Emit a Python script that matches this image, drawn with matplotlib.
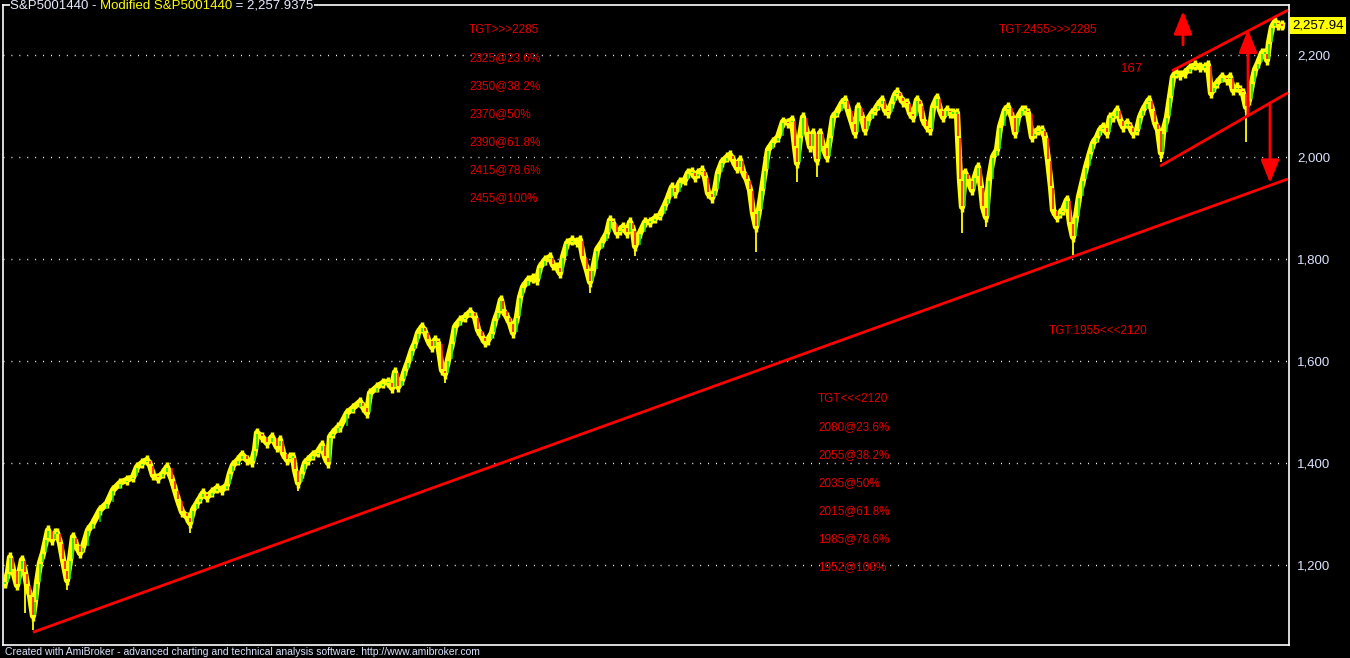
import numpy as np
import matplotlib.pyplot as plt

# daily bars (trading day index) and closes
bars = [5, 8, 10, 13, 17, 20, 22, 25, 27, 30, 33, 35, 37, 40, 43, 46, 48, 52, 55, 57,
        60, 63, 65, 67, 70, 73, 76, 80, 83, 88, 93, 100, 107, 113, 120, 127, 133, 137, 142, 147,
        150, 153, 158, 163, 167, 172, 175, 178, 182, 187, 190, 193, 197, 200, 203, 207, 212, 217, 222, 227,
        230, 233, 238, 242, 247, 252, 255, 257, 262, 267, 272, 277, 280, 283, 287, 290, 293, 295, 298, 302,
        305, 308, 313, 318, 322, 325, 328, 330, 333, 338,
        340, 347, 353, 360, 363, 367, 370, 377, 383, 388, 392, 395, 398, 402, 405, 408, 412, 415, 418, 422,
        425, 428, 432, 435, 438, 442, 445, 448, 452, 455, 460, 465, 470, 475, 478, 482, 485, 488, 492, 495,
        498, 501, 503, 507, 510, 513, 517, 520, 523, 528, 533, 537, 540, 545, 550, 553, 557, 560, 563, 567,
        572, 577, 580, 583, 587, 590, 593, 597, 602, 607, 610, 613, 617, 620, 623, 627, 630, 633, 635, 640,
        645, 650, 655, 660, 665, 668,
        672, 675, 680, 685, 688, 692, 695, 698, 702, 705, 708, 712, 715, 718, 722, 727, 730, 733, 737, 740,
        743, 747, 750, 753, 756, 759, 762, 765, 768, 773, 778, 783, 788, 792, 795, 797, 800, 803, 807, 810,
        813, 817, 820, 823, 827, 830, 833, 837, 842, 845, 848, 852, 855, 858, 862, 865, 868, 872, 875, 878,
        882, 885, 888, 892, 895, 897, 900, 903, 907, 910, 913, 917, 920, 923, 927, 930, 933, 937, 940, 943,
        947, 950, 953, 957, 958, 960, 962, 965, 968, 972, 975, 978, 981, 983, 986, 989, 993, 997,
        1000, 1005, 1008, 1012, 1015, 1018, 1022, 1025, 1028, 1032, 1035, 1038, 1042, 1045, 1048, 1051, 1053, 1057, 1060, 1063,
        1067, 1070, 1073, 1076, 1079, 1083, 1086, 1090, 1093, 1097, 1100, 1103, 1107, 1110, 1113, 1117, 1120, 1123, 1127, 1130,
        1133, 1137, 1140, 1143, 1147, 1149, 1152, 1155, 1158, 1161, 1163, 1167, 1170, 1173, 1176, 1180, 1185, 1190, 1195, 1200,
        1205, 1208, 1211, 1214, 1217, 1222, 1227, 1230, 1233, 1237, 1240, 1243, 1246, 1249, 1252, 1255, 1258, 1262, 1265, 1267,
        1269, 1272, 1275, 1278, 1282]
closes = [1165, 1185, 1215, 1190, 1160, 1190, 1210, 1185, 1160, 1140, 1100, 1130, 1165, 1204, 1223, 1250, 1268, 1249, 1262, 1263,
          1243, 1210, 1190, 1170, 1210, 1255, 1240, 1223, 1235, 1268, 1282, 1308, 1321, 1347, 1361, 1367, 1372, 1392, 1400, 1406,
          1396, 1376, 1370, 1380, 1392, 1367, 1347, 1327, 1304, 1294, 1282, 1308, 1321, 1331, 1341, 1333, 1343, 1351, 1347, 1357,
          1380, 1396, 1406, 1416, 1406, 1402, 1425, 1459, 1451, 1439, 1451, 1431, 1445, 1419, 1406, 1412, 1412, 1386, 1361, 1380,
          1400, 1406, 1416, 1422, 1435, 1412, 1400, 1451, 1459, 1470,
          1471, 1498, 1508, 1520, 1510, 1498, 1537, 1549, 1557, 1559, 1547, 1578, 1549, 1563, 1582, 1598, 1622, 1635, 1655, 1667,
          1657, 1641, 1627, 1641, 1635, 1582, 1575, 1602, 1635, 1667, 1680, 1686, 1696, 1686, 1661, 1647, 1637, 1641, 1655, 1680,
          1696, 1720, 1700, 1686, 1674, 1655, 1686, 1725, 1745, 1759, 1763, 1759, 1784, 1798, 1804, 1788, 1784, 1772, 1804, 1831,
          1837, 1833, 1837, 1804, 1778, 1755, 1778, 1818, 1833, 1851, 1876, 1870, 1851, 1857, 1863, 1851, 1872, 1857, 1825, 1851,
          1872, 1872, 1880, 1886, 1906, 1920,
          1941, 1929, 1951, 1955, 1969, 1971, 1961, 1969, 1974, 1961, 1929, 1920, 1935, 1969, 1990, 2000, 2004, 1994, 1978, 1994,
          1971, 1955, 1935, 1890, 1863, 1896, 1935, 1974, 2014, 2029, 2039, 2069, 2067, 2073, 2020, 1988, 2039, 2078, 2047, 2020,
          2047, 1994, 2047, 2020, 2000, 2039, 2078, 2088, 2106, 2112, 2092, 2067, 2047, 2098, 2078, 2053, 2073, 2086, 2092, 2102,
          2112, 2092, 2086, 2106, 2122, 2127, 2118, 2108, 2106, 2086, 2078, 2112, 2102, 2073, 2059, 2053, 2098, 2116, 2092, 2078,
          2092, 2086, 2086, 2086, 2040, 1955, 1902, 1969, 1955, 1935, 1961, 1980, 1941, 1902, 1882, 1955, 2000, 2014,
          2059, 2092, 2098, 2078, 2047, 2078, 2092, 2092, 2086, 2039, 2047, 2053, 2053, 2039, 1994, 1941, 1896, 1882, 1890, 1896,
          1916, 1870, 1843, 1882, 1922, 1955, 1980, 2008, 2027, 2039, 2053, 2059, 2047, 2078, 2078, 2092, 2073, 2059, 2067, 2059,
          2047, 2053, 2078, 2092, 2106, 2112, 2092, 2067, 2053, 2008, 2047, 2078, 2118, 2157, 2165, 2161, 2165, 2175, 2180, 2176,
          2176, 2180, 2125, 2137, 2145, 2157, 2151, 2157, 2131, 2137, 2131, 2125, 2098, 2112, 2145, 2171, 2184, 2204, 2204, 2190,
          2224, 2255, 2265, 2259, 2258]

# long wicks
wick_bars = [25, 33, 67, 190, 298, 445, 590, 635, 756, 797, 817, 962, 986, 1073, 1161, 1246]
wick_lows = [1105, 1072, 1150, 1262, 1345, 1557, 1733, 1805, 1814, 1950, 1960, 1850, 1862, 1808, 1990, 2030]

# trend lines (bar, price)
support = [(33, 1068), (1288, 1957)]
chan_up = [(1172, 2169), (1288, 2288)]
chan_dn = [(1160, 1982), (1288, 2126)]

up_levels = ["TGT>>>2285", "2325@23.6%", "2350@38.2%", "2370@50%", "2390@61.8%", "2415@78.6%", "2455@100%"]
dn_levels = ["TGT<<<2120", "2080@23.6%", "2055@38.2%", "2035@50%", "2015@61.8%", "1985@78.6%", "1952@100%"]
grid_vals = [1200, 1400, 1600, 1800, 2000, 2200]
last_close = 2257.94

RED = '#ff0000'
TXT_RED = '#e00000'
YEL = '#ffff00'
W, H = 1350, 658

plt.rcParams['font.family'] = ['Liberation Sans', 'DejaVu Sans']
fig = plt.figure(figsize=(13.5, 6.58), dpi=100, facecolor='black')
ax = fig.add_axes([3 / W, 13 / H, 1286 / W, 640 / H], facecolor='black')
ax.set_xlim(3, 1289)
ax.set_ylim(1043, 2298)

for v in grid_vals:
    ax.axhline(v, color='white', lw=1.0, dashes=(0.7, 5.0), zorder=1)

b = np.array(bars)
c = np.array(closes)

# price: yellow bars with green / red bodies
ax.plot(b, c, color=YEL, lw=4.5, solid_joinstyle='round', zorder=3)
ax.vlines(b, c - 10, c + 10, color=YEL, lw=2.5, zorder=3)
ax.vlines(wick_bars, wick_lows, [closes[bars.index(x)] for x in wick_bars],
          color=YEL, lw=1.3, zorder=3)
prev = np.r_[c[0], c[:-1]]
cols = np.where(c >= prev, '#00e000', RED)
ax.vlines(b, np.minimum(c, prev) + 2, np.maximum(c, prev) - 2, colors=cols, lw=1.1, zorder=4)

for ln in (support, chan_up, chan_dn):
    ax.plot([ln[0][0], ln[1][0]], [ln[0][1], ln[1][1]], color=RED, lw=2.0, zorder=5,
            solid_capstyle='butt')

arrow = dict(arrowstyle='-|>,head_width=0.4,head_length=1.0', color=RED, lw=2.0,
             mutation_scale=14, shrinkA=0, shrinkB=0)
ax.annotate('', xy=(1183, 2286), xytext=(1183, 2220), arrowprops=arrow, zorder=6)
ax.annotate('', xy=(1248, 2250), xytext=(1248, 2082), arrowprops=arrow, zorder=6)
ax.annotate('', xy=(1270, 1949), xytext=(1270, 2106), arrowprops=arrow, zorder=6)

ax.set_xticks([])
ax.yaxis.tick_right()
ax.set_yticks(grid_vals)
ax.set_yticklabels([f"{v:,}" for v in grid_vals])
ax.tick_params(axis='y', length=0, pad=6, labelsize=9.5, labelcolor='#dce4ff')
for s in ax.spines.values():
    s.set_color('white')
    s.set_linewidth(1.2)


def fig_text(x, y, s, **kw):
    return fig.text(x / W, 1 - y / H, s, va='center', ha='left', **kw)


for i, s in enumerate(up_levels):
    fig_text(469, 30 + 28 * i, s, color=TXT_RED, fontsize=8.5)
for i, s in enumerate(dn_levels):
    fig_text(818, 399 + 28 * i, s, color=TXT_RED, fontsize=8.5)
fig_text(999, 30, "TGT:2455>>>2285", color=TXT_RED, fontsize=8.5)
fig_text(1121, 69, "167", color=TXT_RED, fontsize=9.5)
fig_text(1049, 331, "TGT:1955<<<2120", color=TXT_RED, fontsize=8.5)

# title, three coloured pieces placed one after another
renderer = fig.canvas.get_renderer()
x0 = 10
for s, col in [("S&P5001440 - ", '#e8ecff'), ("Modified S&P5001440", YEL), (" = 2,257.9375", '#e8ecff')]:
    t = fig_text(x0, 6, s, color=col, fontsize=9.5,
                 bbox=dict(facecolor='black', edgecolor='none', pad=0.0))
    x0 += t.get_window_extent(renderer).width

# last value tag
ax.text(1292, last_close, f"{last_close:,.2f}", color='black', fontsize=9.5, va='center', ha='left',
        bbox=dict(facecolor=YEL, edgecolor='none', pad=1.8), clip_on=False)

fig_text(5, 652, "Created with AmiBroker - advanced charting and technical analysis software. http://www.amibroker.com",
         color='#dce4ff', fontsize=7.5)

fig.savefig('out.png', dpi=100, facecolor='black')
